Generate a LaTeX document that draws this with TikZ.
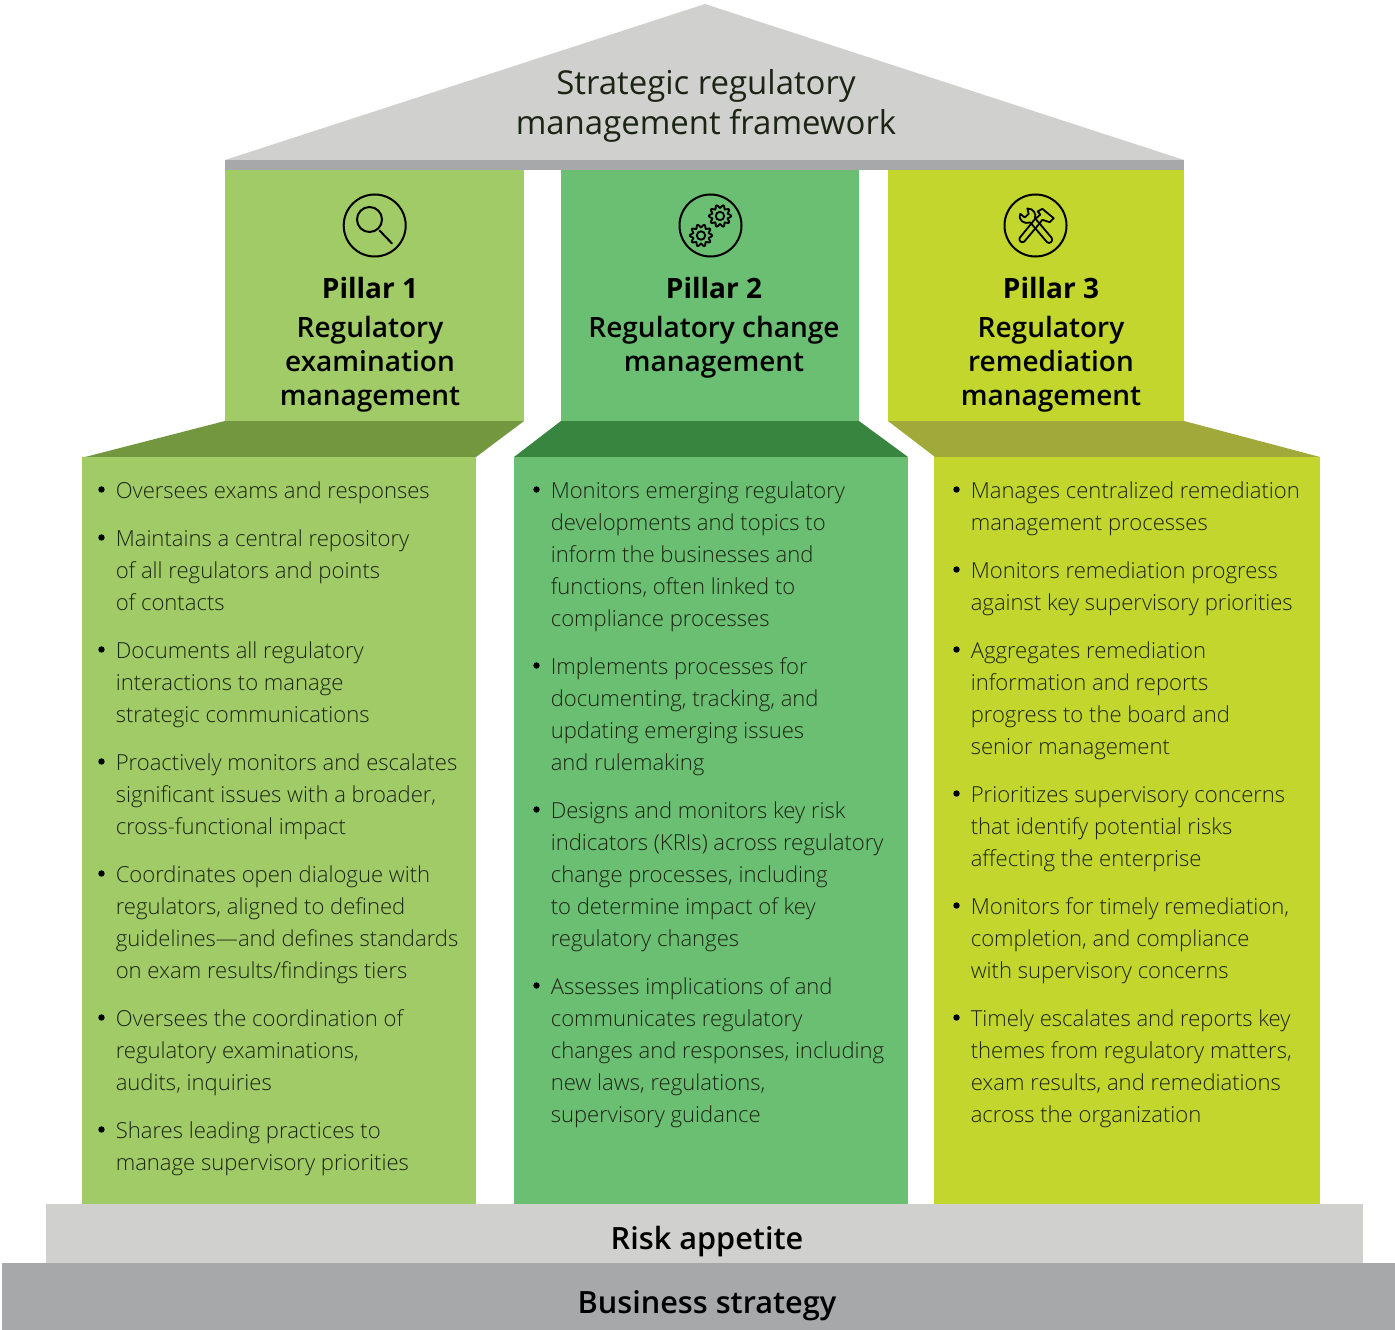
\documentclass[tikz,border=0pt]{standalone}
\usepackage{fontspec}
\setmainfont{Open Sans}
\newfontfamily\lightf{Open Sans Light}
\newfontfamily\semif{Open Sans Semibold}
\definecolor{pa}{HTML}{A0CB66}
\definecolor{pb}{HTML}{6BBF72}
\definecolor{pc}{HTML}{C2D62E}
\definecolor{da}{HTML}{72973E}
\definecolor{db}{HTML}{38853F}
\definecolor{dc}{HTML}{A1A93A}
\definecolor{lg}{HTML}{D0D0CE}
\definecolor{mg}{HTML}{A7A8AA}
\definecolor{tx}{HTML}{1C2414}
\tikzset{
  x=0.75pt,y=-0.75pt,
  itemtxt/.style={anchor=north west,inner sep=0pt,align=left,text=tx,font=\lightf\fontsize{16.55}{24}\selectfont},
  dot/.style={circle,fill=black,inner sep=0pt,minimum size=4.8pt},
  title/.style={inner sep=0pt,align=center,anchor=north,text=black,font=\semif\fontsize{21}{25.5}\selectfont},
  band/.style={inner sep=0pt,text=black,font=\semif\fontsize{23}{27}\selectfont},
  icon/.style={line width=1.5pt,draw=black},
}
\newcommand{\itm}[4]{%
  \node[dot] (d#1) at (#2-14.5,#3+9.5) {};
  \node[itemtxt] (t#1) at (#2-0.5,#3-2) {\rule{0pt}{15pt}#4};
}
\newcommand{\gearat}[2]{%
  \draw[icon,line width=1.4pt] plot[domain=0:360,samples=121,smooth] ({#1+(9.6+1.5*cos(10*\x))*cos(\x)},{#2+(9.6+1.5*cos(10*\x))*sin(\x)}) -- cycle;
  \draw[icon,line width=1.4pt] (#1,#2) circle (4.2);
}
\newcommand{\pillarhead}[1]{{\rmfamily\bfseries #1}}
\begin{document}
\begin{tikzpicture}
\useasboundingbox (0,0) rectangle (1395,1330);
% roof
\fill[lg] (705,4) -- (1184,160) -- (225,160) -- cycle;
\fill[mg] (225,160) rectangle (1184,170);
\node[inner sep=0pt,align=center,font=\fontsize{24.7}{30}\selectfont,text=tx] (roof) at (706,106) {Strategic regulatory\\management framework};
% pillars
\fill[pa] (225,170) rectangle (524,421);
\fill[pb] (561,170) rectangle (859,421);
\fill[pc] (888,170) rectangle (1184,421);
\fill[da] (225,421) -- (524,421) -- (476,457) -- (85,457) -- cycle;
\fill[db] (561,421) -- (859,421) -- (908,457) -- (514,457) -- cycle;
\fill[dc] (888,421) -- (1184,421) -- (1320,457) -- (935,457) -- cycle;
\fill[pa] (82,457) rectangle (476,1204);
\fill[pb] (514,457) rectangle (908,1204);
\fill[pc] (934,457) rectangle (1320,1204);
% bands
\fill[lg] (46,1204) rectangle (1363,1263);
\fill[mg] (2,1263) rectangle (1395,1330);
\node[band] (risk) at (707,1242) {Risk appetite};
\node[band] (biz) at (707,1306) {Business strategy};
% icons
\draw[icon] (374.7,225.5) circle (31);
\draw[icon] (369.5,219.5) circle (12.5);
\draw[icon,line cap=round] (379.5,230.5) -- (392,243.5);
\draw[icon] (710.5,225.5) circle (31);
\gearat{720}{216}
\gearat{701}{235.5}
\draw[icon] (1035.5,225.5) circle (31);
\begin{scope}[shift={(985,180.5)},x=0.25pt,y=-0.25pt,line join=round]
 % hammer
 \draw[icon,line width=1.35pt] (148,118) -- (104,172) .. controls (100,180) and (110,190) .. (118,183) -- (161,132) -- (172,118) -- (194,125) -- (206,113) -- (172,85) -- (158,93) -- (166,102) -- cycle;
 % wrench
 \draw[icon,line width=1.35pt] (106,100) -- (119,111) -- (131,100) -- (127,84) .. controls (146,84) and (154,100) .. (150,113) -- (200,172) .. controls (206,182) and (194,192) .. (186,185) -- (136,126) .. controls (118,132) and (98,120) .. cycle;
\end{scope}
% titles
\node[title] (ta) at (370,269) {\rule{0pt}{22pt}\pillarhead{Pillar 1}\\[3.75pt]Regulatory\\examination\\management};
\node[title] (tb) at (714,269) {\rule{0pt}{22pt}\pillarhead{Pillar 2}\\[3.75pt]Regulatory change\\management};
\node[title] (tc) at (1051,269) {\rule{0pt}{22pt}\pillarhead{Pillar 3}\\[3.75pt]Regulatory\\remediation\\management};
% column 1
\itm{a1}{116}{480}{Oversees exams and responses}
\itm{a2}{116}{528}{Maintains a central repository\\of all regulators and points\\of contacts}
\itm{a3}{116}{640}{Documents all regulatory\\interactions to manage\\strategic communications}
\itm{a4}{116}{752}{Proactively monitors and escalates\\significant issues with a broader,\\cross-functional impact}
\itm{a5}{116}{864}{Coordinates open dialogue with\\regulators, aligned to defined\\guidelines—and defines standards\\on exam results/findings tiers}
\itm{a6}{116}{1008}{Oversees the coordination of\\regulatory examinations,\\audits, inquiries}
\itm{a7}{116}{1120}{Shares leading practices to\\manage supervisory priorities}
% column 2
\itm{b1}{551}{480}{Monitors emerging regulatory\\developments and topics to\\inform the businesses and\\functions, often linked to\\compliance processes}
\itm{b2}{551}{656}{Implements processes for\\documenting, tracking, and\\updating emerging issues\\and rulemaking}
\itm{b3}{551}{800}{Designs and monitors key risk\\indicators (KRIs) across regulatory\\change processes, including\\to determine impact of key\\regulatory changes}
\itm{b4}{551}{976}{Assesses implications of and\\communicates regulatory\\changes and responses, including\\new laws, regulations,\\supervisory guidance}
% column 3
\itm{c1}{971}{480}{Manages centralized remediation\\management processes}
\itm{c2}{971}{560}{Monitors remediation progress\\against key supervisory priorities}
\itm{c3}{971}{640}{Aggregates remediation\\information and reports\\progress to the board and\\senior management}
\itm{c4}{971}{784}{Prioritizes supervisory concerns\\that identify potential risks\\affecting the enterprise}
\itm{c5}{971}{896}{Monitors for timely remediation,\\completion, and compliance\\with supervisory concerns}
\itm{c6}{971}{1008}{Timely escalates and reports key\\themes from regulatory matters,\\exam results, and remediations\\across the organization}
\end{tikzpicture}
\end{document}
